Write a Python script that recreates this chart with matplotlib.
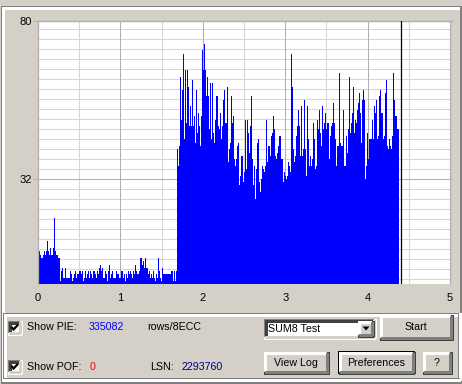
import numpy as np
import matplotlib
matplotlib.use("Agg")
import matplotlib.pyplot as plt
from matplotlib.patches import Rectangle, Polygon

# ---------------- data (PIE counts per sample) ----------------
pie_seg_a = [9, 10, 9, 8, 8, 9, 10, 9, 10, 13, 10, 9, 11, 9, 9, 11, 20, 10, 9, 9,
             8, 8, 1, 4, 5, 2, 2, 5, 2, 2, 2, 2, 4, 3, 1, 2, 3, 4, 2, 3,
             3, 4, 4, 3, 4, 1, 2, 4, 2, 3, 4, 2, 4, 3, 2, 4, 4, 3, 2, 4,
             3, 5, 6, 4, 5, 2, 2, 4, 3, 1]
pie_seg_b = [4, 6, 2, 3, 4, 2, 2, 2, 4, 3, 3, 2, 2, 4, 4, 2, 3, 1, 3, 2,
             4, 3, 4, 3, 2, 4, 3, 6, 4, 3, 3, 4, 8, 8, 6, 7, 5, 8, 5, 5,
             3, 4, 2, 3, 2, 4, 2, 1, 3, 2, 8, 4, 2, 1, 5, 3, 3, 3, 3, 3,
             3, 3, 3, 4, 4, 1, 4, 1, 4]
pie_seg_c = [41, 36, 42, 63, 50, 59, 70, 44, 65, 49, 65, 60, 48, 54, 48, 62, 48, 51, 43, 59,
             46, 52, 48, 42, 51, 71, 65, 73, 65, 57, 63, 57, 47, 61, 44, 61, 46, 43, 50, 57,
             57, 48, 47, 52, 44, 48, 56, 59, 49, 49, 60, 37, 41]
pie_seg_d = [43, 57, 49, 51, 38, 36, 38, 42, 43, 30, 33, 39, 39, 31, 34, 50, 35, 50, 46, 40,
             48, 57, 38, 30, 36, 26, 35, 43, 44, 31, 28, 32, 36, 35, 34, 36, 50, 37, 42, 42,
             39, 45, 46, 51, 47, 39, 38, 40, 42, 45, 45, 38, 38, 31, 34, 33]
pie_seg_e = [32, 33, 37, 36, 34, 70, 60, 41, 37, 39, 45, 48, 53, 48, 39, 54, 39, 41, 56, 41,
             33, 54, 44, 36, 39, 36, 38, 49, 44, 35, 36, 50, 47, 53, 46, 42, 54, 47, 49, 52,
             47, 49, 49, 38, 45, 48, 49, 55, 49, 44, 36, 42, 42, 64, 43, 42]
pie_seg_f = [42, 53, 36, 36, 45, 40, 47, 63, 46, 49, 52, 60, 46, 50, 49, 53, 55, 58, 52, 43,
             56, 59, 56, 32, 36, 46, 38, 44, 44, 44, 50, 44, 54, 52, 56, 44, 45, 57, 59, 52,
             52, 44, 45, 58, 62, 42, 41, 44, 42, 41, 45, 64, 56, 51, 51, 47, 47]
sample_step = 1 / 82.4          # GB per sample
scan_position = 4.40            # current position marker (GB)
x_ticks = [0, 1, 2, 3, 4, 5]
y_ticks = [32, 80]
pie_total = "335082"
pof_total = "0"
lsn_value = "2293760"

pie_values = np.array(pie_seg_a + pie_seg_b + pie_seg_c + pie_seg_d + pie_seg_e + pie_seg_f, dtype=float)
edges = np.arange(len(pie_values) + 1) * sample_step

# ---------------- styling ----------------
FACE = "#d4d0c8"
GRID_LIGHT = "#d6d6d6"
GRID_DARK = "#b0b0b0"
FONT = "Liberation Sans"
W, H = 462, 384

fig = plt.figure(figsize=(W / 100, H / 100), dpi=100, facecolor=FACE)
bg = fig.add_axes([0, 0, 1, 1], zorder=0)
bg.set_xlim(0, W)
bg.set_ylim(H, 0)
bg.axis("off")

def hline(x0, x1, y, c, lw=0.75):
    bg.plot([x0, x1], [y, y], color=c, lw=lw, solid_capstyle="butt", antialiased=False)

def vline(x, y0, y1, c, lw=0.75):
    bg.plot([x, x], [y0, y1], color=c, lw=lw, solid_capstyle="butt", antialiased=False)

# outer etched frame of the window panel
hline(1, 461, 6.5, "#808080"); hline(2, 460, 7.5, "white")
vline(1.5, 6, 383, "#808080"); vline(2.5, 7, 382, "white")
vline(460.5, 6, 383, "#808080")
hline(1, 461, 382.5, "#808080")

# group box around the controls
hline(3, 459, 313.5, "#808080"); hline(4, 458, 314.5, "white")
vline(3.5, 313, 379, "#808080"); vline(4.5, 314, 378, "white")
vline(458.5, 313, 379, "#808080"); vline(459.5, 313, 380, "white")
hline(3, 459, 378.5, "#808080"); hline(3, 460, 379.5, "white")

def raised(x0, y0, x1, y1):
    bg.add_patch(Rectangle((x0, y0), x1 - x0, y1 - y0, facecolor=FACE, edgecolor="none"))
    hline(x0, x1 - 1, y0 + 0.5, "white"); vline(x0 + 0.5, y0, y1 - 1, "white")
    hline(x0, x1, y1 - 0.5, "#404040"); vline(x1 - 0.5, y0, y1, "#404040")
    hline(x0 + 1, x1 - 1, y1 - 1.5, "#808080"); vline(x1 - 1.5, y0 + 1, y1 - 1, "#808080")

def sunken(x0, y0, x1, y1, fill="white"):
    bg.add_patch(Rectangle((x0, y0), x1 - x0, y1 - y0, facecolor=fill, edgecolor="none"))
    hline(x0, x1 - 1, y0 + 0.5, "#808080"); vline(x0 + 0.5, y0, y1 - 1, "#808080")
    hline(x0 + 1, x1 - 2, y0 + 1.5, "#404040"); vline(x0 + 1.5, y0 + 1, y1 - 2, "#404040")
    hline(x0, x1, y1 - 0.5, "white"); vline(x1 - 0.5, y0, y1, "white")
    hline(x0 + 1, x1 - 1, y1 - 1.5, FACE); vline(x1 - 1.5, y0 + 1, y1 - 1, FACE)

def button(x0, y0, x1, y1, label, default=False):
    if default:
        bg.add_patch(Rectangle((x0, y0), x1 - x0, y1 - y0, facecolor="black", edgecolor="none"))
        raised(x0 + 1, y0 + 1, x1 - 1, y1 - 1)
    else:
        raised(x0, y0, x1, y1)
    bg.text((x0 + x1) / 2, (y0 + y1) / 2, label, ha="center", va="center",
            fontsize=7.7, family=FONT, color="black")

def checkbox(x0, y0):
    sunken(x0, y0, x0 + 13, y0 + 13)
    bg.plot([x0 + 3.5, x0 + 5.5, x0 + 10], [y0 + 6, y0 + 8.5, y0 + 3.8],
            color="black", lw=1.6, solid_joinstyle="miter", solid_capstyle="butt")

# left controls
checkbox(8, 321)
checkbox(8, 360)
txt = dict(fontsize=7.7, family=FONT, va="center", ha="left")
bg.text(27, 327.5, "Show PIE:", color="black", **txt)
bg.text(89, 327.5, pie_total, color="#0000ff", **txt)
bg.text(147, 327.5, "rows/8ECC", color="black", **txt)
bg.text(27, 366.5, "Show POF:", color="black", **txt)
bg.text(89.5, 366.5, pof_total, color="#ff0000", **txt)
bg.text(150, 366.5, "LSN:", color="black", **txt)
bg.text(181, 366.5, lsn_value, color="#000080", **txt)

# combo box
sunken(264, 319, 375, 338)
bg.text(268, 329, "SUM8 Test", color="black", **txt)
raised(358, 321, 373, 336)
bg.add_patch(Polygon([[362.5, 326.5], [369.5, 326.5], [366, 330.5]], closed=True,
                     facecolor="black", edgecolor="none"))

button(380, 315, 452, 339.5, "Start")
button(264, 352, 328, 373.5, "View Log")
button(338, 351, 415, 374, "Preferences", default=True)
button(423, 352, 451, 373.5, "?")

# ---------------- chart ----------------
ax = fig.add_axes([38 / W, (H - 284.3) / H, 412 / W, 263.6 / H], zorder=1)
ax.set_facecolor("white")
ax.set_xlim(0, 5)
ax.set_ylim(0, 80)

y_step = 10 / (263.6 / 80)
for k in list(range(-10, 0)) + list(range(1, 16)):
    ax.axhline(32 + k * y_step, color=GRID_LIGHT, lw=0.75, zorder=0.5)
for xv in np.arange(0.5, 5, 1.0):
    ax.axvline(xv, color=GRID_LIGHT, lw=0.75, zorder=0.5)
for xv in range(1, 5):
    ax.axvline(xv, color=GRID_DARK, lw=0.75, zorder=0.6)
ax.axhline(32, xmin=0, xmax=1.006, color=GRID_DARK, lw=0.75, zorder=0.6, clip_on=False)
ax.axhline(80, xmin=0, xmax=1.006, color=GRID_DARK, lw=0.9, zorder=0.6, clip_on=False)

ax.stairs(pie_values, edges, fill=True, color="#0000ff", linewidth=0, zorder=2)
ax.axvline(scan_position, color="black", lw=0.9, zorder=3)

for side in ("left", "right", "top"):
    ax.spines[side].set_color(GRID_DARK)
    ax.spines[side].set_linewidth(0.9)
ax.spines["bottom"].set_visible(False)

ax.set_xticks(x_ticks)
ax.set_xticklabels([str(v) for v in x_ticks], fontsize=8, family=FONT)
ax.tick_params(axis="x", length=0, pad=6)
ax.set_yticks(y_ticks)
ax.set_yticklabels([str(v) for v in y_ticks], fontsize=8, family=FONT)
ax.tick_params(axis="y", length=3.6, width=0.8, color=GRID_DARK, pad=0.5)

fig.savefig("out.png", dpi=100, facecolor=FACE)
